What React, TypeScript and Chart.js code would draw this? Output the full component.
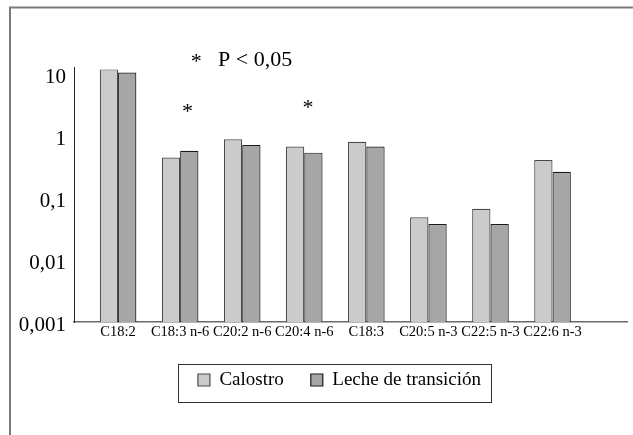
import React, { useEffect, useRef } from "react";
import { Chart, registerables } from "chart.js";

Chart.register(...registerables);

const categories = ["C18:2", "C18:3 n-6", "C20:2 n-6", "C20:4 n-6", "C18:3", "C20:5 n-3", "C22:5 n-3", "C22:6 n-3"];
const calostro = [11.9, 0.45, 0.885, 0.68, 0.81, 0.049, 0.067, 0.41];
const transicion = [10.6, 0.58, 0.72, 0.54, 0.68, 0.038, 0.038, 0.265];
const yTicks = [0.001, 0.01, 0.1, 1, 10];
const yTickLabels = ["0,001", "0,01", "0,1", "1", "10"];
const starIndex = [1.12, 3.06];
const starValue = [1.95, 2.3];
const noteText = "P < 0,05";

const SERIF = "'Liberation Serif', 'Times New Roman', serif";
const LEGEND_SHIFT = 20;

export default function App() {
  const ref = useRef<HTMLCanvasElement | null>(null);

  useEffect(() => {
    if (!ref.current) return;

    const decor = {
      id: "decor",
      afterUpdate(chart: any) {
        if (chart.legend) chart.legend.__shifted = false;
      },
      beforeDraw(chart: any) {
        const lg = chart.legend;
        if (lg && !lg.__shifted) {
          lg.left += LEGEND_SHIFT;
          lg.right += LEGEND_SHIFT;
          (lg.legendHitBoxes || []).forEach((h: any) => {
            h.left += LEGEND_SHIFT;
          });
          lg.__shifted = true;
        }
        const ctx = chart.ctx;
        ctx.save();
        ctx.strokeStyle = "#7a7a7a";
        ctx.lineWidth = 2;
        ctx.beginPath();
        ctx.moveTo(10, 435);
        ctx.lineTo(10, 7.5);
        ctx.lineTo(633, 7.5);
        ctx.stroke();
        ctx.restore();
      },
      afterDraw(chart: any) {
        const ctx = chart.ctx;
        const xs = chart.scales.x;
        const ys = chart.scales.y;
        ctx.save();
        ctx.fillStyle = "#000";
        ctx.font = "22px " + SERIF;
        ctx.textAlign = "center";
        ctx.textBaseline = "alphabetic";
        starIndex.forEach((xi, k) => {
          ctx.fillText("*", xs.getPixelForValue(xi), ys.getPixelForValue(starValue[k]));
        });
        const top = chart.chartArea.top;
        ctx.fillText("*", xs.getPixelForValue(1.26), top + 1);
        ctx.textAlign = "left";
        ctx.fillText(noteText, xs.getPixelForValue(1.61), top - 1);

        // legend frame
        const lg = chart.legend;
        const hb = lg && lg.legendHitBoxes;
        if (hb && hb.length) {
          const first = hb[0];
          const last = hb[hb.length - 1];
          const cy = first.top + first.height / 2;
          const l = Math.round(first.left - 20) + 0.5;
          const r = Math.round(last.left + last.width + 10) + 0.5;
          const t = Math.round(cy - 16) + 0.5;
          const b = Math.round(cy + 22) + 0.5;
          ctx.strokeStyle = "#333";
          ctx.lineWidth = 1;
          ctx.strokeRect(l, t, r - l, b - t);
        }
        ctx.restore();
      },
    };

    const chart = new Chart(ref.current, {
      type: "bar",
      data: {
        datasets: [
          {
            label: "Calostro",
            data: calostro.map((v, i) => ({ x: i, y: v })),
            backgroundColor: "#cbcbcb",
            borderColor: "#4a4a4a",
            borderWidth: 1.2,
          },
          {
            label: "Leche de transición",
            data: transicion.map((v, i) => ({ x: i, y: v })),
            backgroundColor: "#a6a6a6",
            borderColor: "#1a1a1a",
            borderWidth: 1.2,
          },
        ],
      },
      options: {
        animation: false,
        responsive: true,
        maintainAspectRatio: false,
        layout: { padding: { left: 12, right: 6, top: 67, bottom: 35.5 } },
        categoryPercentage: 0.59,
        barPercentage: 1,
        scales: {
          x: {
            type: "linear",
            offset: false,
            min: -0.71,
            max: 8.2,
            grid: { display: false, drawTicks: false },
            border: { display: true, color: "#6a6a6a", width: 1.5 },
            afterBuildTicks: (scale: any) => {
              scale.ticks = categories.map((_, i) => ({ value: i }));
            },
            afterFit: (scale: any) => {
              scale.height = 21.5;
            },
            ticks: {
              autoSkip: false,
              maxRotation: 0,
              padding: 1,
              color: "#000",
              font: { family: SERIF, size: 14.5 },
              callback: (v: any) => categories[v as number] ?? "",
            },
          },
          y: {
            type: "logarithmic",
            min: 0.001,
            max: 13,
            grid: { display: false, drawTicks: false },
            border: { display: true, color: "#222", width: 1 },
            afterBuildTicks: (scale: any) => {
              scale.ticks = yTicks.map((v) => ({ value: v }));
            },
            afterFit: (scale: any) => {
              scale.width = 62;
            },
            ticks: {
              padding: 8,
              labelOffset: 3,
              color: "#000",
              font: { family: SERIF, size: 21 },
              callback: (v: any) => {
                const i = yTicks.findIndex((t) => Math.abs(t - v) / t < 1e-6);
                return i >= 0 ? yTickLabels[i] : "";
              },
            },
          },
        },
        plugins: {
          legend: {
            position: "bottom",
            labels: {
              boxWidth: 12,
              boxHeight: 12,
              padding: 27,
              color: "#000",
              font: { family: SERIF, size: 19 },
            },
          },
          tooltip: { enabled: false },
        },
      },
      plugins: [decor],
    } as any);

    return () => chart.destroy();
  }, []);

  return (
    <div style={{ position: "absolute", left: 0, top: 0, width: 633, height: 435 }}>
      <canvas ref={ref} />
    </div>
  );
}
